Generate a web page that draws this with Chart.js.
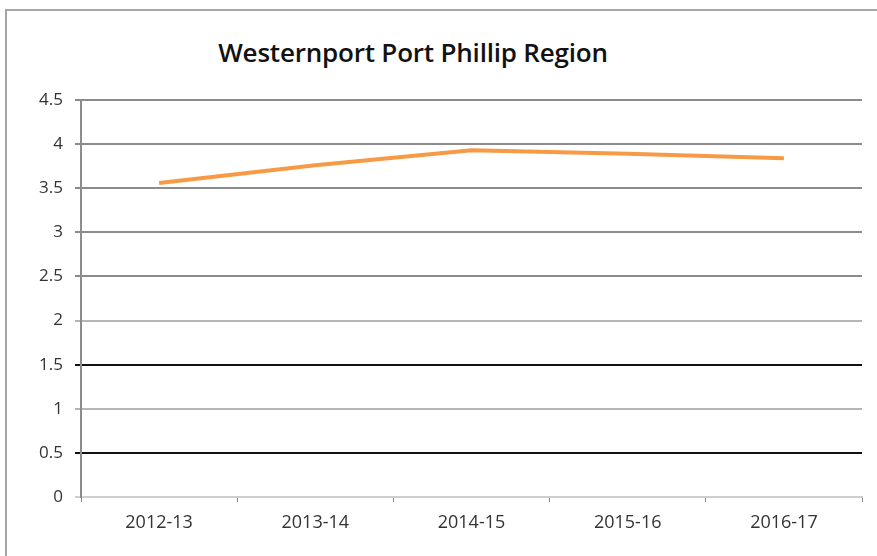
<!DOCTYPE html>
<html lang="en">
<head>
    <meta charset="UTF-8">
    <title>Westernport Port Phillip Region</title>
    <script src="https://cdn.jsdelivr.net/npm/chart.js"></script>
    <style>
        body {
            margin: 0;
            background: #fff;
            font-family: "Open Sans", Lato, sans-serif;
        }

        .frame {
            position: absolute;
            left: 5px;
            top: 9px;
            width: 900px;
            height: 600px;
            border: 2px solid #a6a6a6;
        }

        h1 {
            position: absolute;
            left: 0;
            width: 826px;
            top: 34px;
            margin: 0;
            text-align: center;
            font-size: 26px;
            font-weight: 600;
            letter-spacing: -0.2px;
            color: #111;
        }

        .wrap {
            position: absolute;
            left: 0;
            top: 0;
            width: 877px;
            height: 556px;
        }
    </style>
</head>
<body>
    <div class="frame"></div>
    <h1>Westernport Port Phillip Region</h1>
    <div class="wrap"><canvas id="grafico"></canvas></div>

    <script>
        const categorias = ['2012-13', '2013-14', '2014-15', '2015-16', '2016-17'];
        const valores = [3.56, 3.76, 3.93, 3.89, 3.84];
        const ticksY = [0, 0.5, 1, 1.5, 2, 2.5, 3, 3.5, 4, 4.5];

        // colores de las lineas horizontales (como en la imagen original)
        const colorLinea = v => {
            if (v === 0) return '#cfcfcf';
            if (v === 0.5 || v === 1.5) return '#111';
            if (v === 1 || v === 2) return '#b5b5b5';
            return '#8c8c8c';
        };

        const ctx = document.getElementById('grafico').getContext('2d');
        new Chart(ctx, {
            type: 'line',
            data: {
                labels: categorias,
                datasets: [{
                    data: valores,
                    borderColor: '#f79a46',
                    borderWidth: 4,
                    pointRadius: 0,
                    tension: 0
                }]
            },
            options: {
                responsive: true,
                maintainAspectRatio: false,
                animation: false,
                layout: { padding: { left: 5, right: 15, top: 100, bottom: 0 } },
                plugins: {
                    legend: { display: false },
                    tooltip: { enabled: false }
                },
                scales: {
                    x: {
                        offset: true,
                        grid: {
                            offset: true,
                            drawOnChartArea: false,
                            drawTicks: true,
                            tickLength: 5,
                            color: '#888'
                        },
                        border: { color: '#cfcfcf', width: 2 },
                        ticks: {
                            color: '#333',
                            font: { family: 'Open Sans', size: 18 },
                            padding: 10,
                            maxRotation: 0
                        },
                        afterFit: s => { s.height = 59; }
                    },
                    y: {
                        min: 0,
                        max: 4.5,
                        afterBuildTicks: s => { s.ticks = ticksY.map(v => ({ value: v })); },
                        grid: {
                            color: c => colorLinea(c.tick.value),
                            lineWidth: 2,
                            tickLength: 6
                        },
                        border: { color: '#8c8c8c', width: 2 },
                        ticks: {
                            color: '#333',
                            font: { family: 'Open Sans', size: 17 },
                            padding: 12,
                            callback: v => String(v)
                        },
                        afterFit: s => { s.width = 76; }
                    }
                }
            }
        });
    </script>
</body>
</html>
